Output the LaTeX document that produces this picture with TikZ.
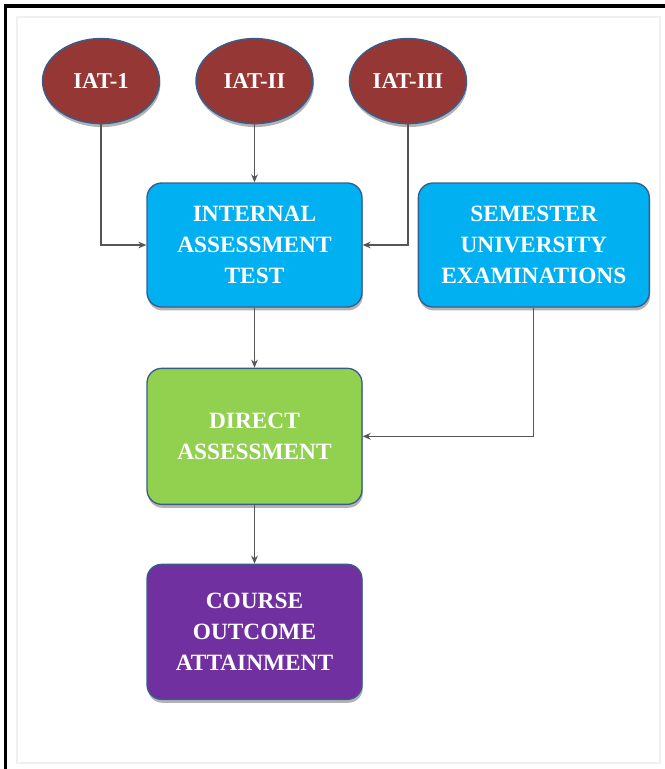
\documentclass[tikz,border=0pt]{standalone}
\usepackage{fontspec}
\setmainfont{Liberation Serif}
\usepackage{tikz}
\usetikzlibrary{positioning,arrows.meta,shapes.geometric,shadows}
\definecolor{iatred}{RGB}{149,55,53}
\definecolor{testblue}{RGB}{0,176,240}
\definecolor{directgreen}{RGB}{146,208,80}
\definecolor{copurple}{RGB}{112,48,160}
\definecolor{edgeblue}{RGB}{56,93,138}
\definecolor{linegray}{RGB}{85,85,85}

\begin{document}
\begin{tikzpicture}[
    x=0.75pt, y=-0.75pt,
    node distance=44pt and 41.25pt,
    shade/.style={drop shadow={opacity=0.6, shadow xshift=0.6pt, shadow yshift=-2.6pt}},
    iat/.style={ellipse, draw=edgeblue, line width=1.1pt, fill=iatred, shade,
                minimum width=87.75pt, minimum height=63.75pt, inner sep=0pt,
                text=white, font=\fontsize{17}{20}\selectfont\bfseries},
    box/.style={draw=edgeblue, line width=1pt, rounded corners=11pt, shade,
                minimum width=161.25pt, minimum height=93pt, inner sep=2pt,
                align=center, text=white, font=\fontsize{17.5}{23}\selectfont\bfseries},
    test/.style={box, fill=testblue},
    direct/.style={box, fill=directgreen, minimum height=102pt},
    attain/.style={box, fill=copurple, minimum height=101.25pt},
    arr/.style={-{Stealth[length=6pt, width=5pt]}, line width=0.9pt, draw=linegray},
  ]
  \useasboundingbox (0,0) rectangle (665,769);
  \draw[black, line width=2.4pt] (5.5,769) -- (5.5,6) -- (665,6);
  \draw[gray!12, line width=0.8pt] (17,17) rectangle (660,763);

  \node[test] (iatest) at (254.5,245) {INTERNAL\\ASSESSMENT\\TEST};
  \node[test, right=of iatest, minimum width=173.25pt] (semester) {SEMESTER\\UNIVERSITY\\EXAMINATIONS};
  \node[direct, below=45pt of iatest] (direct) {DIRECT\\ASSESSMENT};
  \node[attain, below=of direct] (coa) {COURSE\\OUTCOME\\ATTAINMENT};
  \node[iat, above=43.5pt of iatest] (iat2) {IAT-II};
  \node[iat, left=26.25pt of iat2] (iat1) {IAT-1};
  \node[iat, right=26.25pt of iat2] (iat3) {IAT-III};

  \draw[arr] (iat1.south) |- (iatest.west);
  \draw[arr] (iat2) -- (iatest);
  \draw[arr] (iat3.south) |- (iatest.east);
  \draw[arr] (iatest) -- (direct);
  \draw[arr] (semester.south) |- (direct.east);
  \draw[arr] (direct) -- (coa);
\end{tikzpicture}
\end{document}
